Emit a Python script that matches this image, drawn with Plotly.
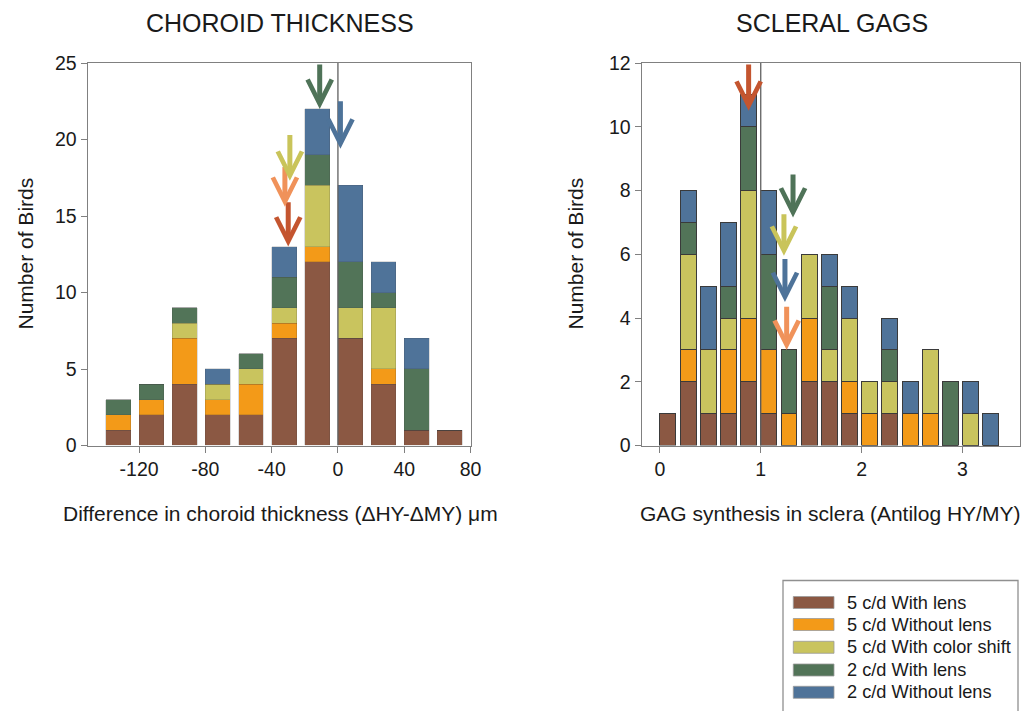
import plotly.graph_objects as go

W, H = 1022, 711

series_names = ["5 c/d With lens", "5 c/d Without lens", "5 c/d With color shift",
                "2 c/d With lens", "2 c/d Without lens"]
series_colors = ["#8B5843", "#F39A18", "#C9C45E", "#527458", "#4F7399"]

# Choroid thickness histogram (bin centers, um)
choroid_bins = [-132.5, -112.5, -92.5, -72.5, -52.5, -32.5, -12.5, 7.5, 27.5, 47.5, 67.5]
choroid_5cd_lens = [1, 2, 4, 2, 2, 7, 12, 7, 4, 1, 1]
choroid_5cd_nolens = [1, 1, 3, 1, 2, 1, 1, 0, 1, 0, 0]
choroid_5cd_color = [0, 0, 1, 1, 1, 1, 4, 2, 4, 0, 0]
choroid_2cd_lens = [1, 1, 1, 0, 1, 2, 2, 3, 1, 4, 0]
choroid_2cd_nolens = [0, 0, 0, 1, 0, 2, 3, 5, 2, 2, 0]
choroid_tickvals = [-120, -80, -40, 0, 40, 80]
choroid_ticktext = ["-120", "-80", "-40", "0", "40", "80"]

# Scleral GAG histogram (bin centers, antilog HY/MY)
gag_bins = [0.08, 0.28, 0.48, 0.68, 0.88, 1.08, 1.28, 1.48, 1.68, 1.88,
            2.08, 2.28, 2.48, 2.68, 2.88, 3.08, 3.28]
gag_5cd_lens = [1, 2, 1, 1, 2, 1, 0, 2, 2, 1, 0, 1, 0, 0, 0, 0, 0]
gag_5cd_nolens = [0, 1, 0, 2, 2, 2, 1, 2, 0, 1, 1, 0, 1, 1, 0, 0, 0]
gag_5cd_color = [0, 3, 2, 1, 4, 0, 0, 2, 1, 2, 1, 1, 0, 2, 0, 1, 0]
gag_2cd_lens = [0, 1, 0, 1, 2, 3, 2, 0, 2, 0, 0, 1, 0, 0, 2, 0, 0]
gag_2cd_nolens = [0, 1, 2, 2, 1, 2, 0, 0, 1, 1, 0, 1, 1, 0, 0, 1, 1]

# Mean-shift arrows: (x, tail y, tip y)
choroid_arrow_x = [-30, -32, -29, -11, 1.5]
choroid_arrow_tail = [16.0, 18.3, 20.4, 25.0, 22.6]
choroid_arrow_tip = [13.0, 15.6, 17.3, 22.0, 19.4]
gag_arrow_x = [0.88, 1.257, 1.23, 1.32, 1.24]
gag_arrow_tail = [12.0, 4.4, 7.3, 8.55, 5.9]
gag_arrow_tip = [10.5, 3.0, 5.95, 7.15, 4.5]
arrow_colors = ["#C4552F", "#F0925A", "#C9C45A", "#4F7358", "#4E7399"]

choroid_series = [choroid_5cd_lens, choroid_5cd_nolens, choroid_5cd_color,
                  choroid_2cd_lens, choroid_2cd_nolens]
gag_series = [gag_5cd_lens, gag_5cd_nolens, gag_5cd_color, gag_2cd_lens, gag_2cd_nolens]

FONT = "Liberation Sans, Arial, sans-serif"
TXT = "#1a1a1a"

fig = go.Figure()
for name, col, vals in zip(series_names, series_colors, choroid_series):
    fig.add_trace(go.Bar(x=choroid_bins, y=vals, width=15, name=name,
                         marker=dict(color=col, line=dict(width=0.5, color="rgba(60,60,60,0.35)")),
                         xaxis="x", yaxis="y", showlegend=False))
for name, col, vals in zip(series_names, series_colors, gag_series):
    fig.add_trace(go.Bar(x=gag_bins, y=vals, width=0.158, name=name,
                         marker=dict(color=col, line=dict(width=1, color="#3a3a3a")),
                         xaxis="x2", yaxis="y2", showlegend=False))

def px(x):
    return x / W

def py(y):
    return 1 - y / H

ydom = [py(445.5), py(62.7)]
axis_common = dict(showgrid=False, zeroline=False, showline=True, linecolor="#808080",
                   linewidth=1.3, mirror=True, ticks="outside", ticklen=6,
                   tickcolor="#808080", tickwidth=1.2, automargin=False,
                   tickfont=dict(family=FONT, size=19.5, color=TXT))

fig.update_layout(
    template="none",
    width=W, height=H, margin=dict(l=0, r=0, t=0, b=0, pad=0, autoexpand=False),
    paper_bgcolor="white", plot_bgcolor="white", barmode="stack",
    showlegend=False,
    xaxis=dict(domain=[px(87.7), px(471)], range=[-151, 80.3], tickmode="array",
               tickvals=choroid_tickvals, ticktext=choroid_ticktext,
               anchor="y", **axis_common),
    yaxis=dict(domain=ydom, range=[0, 25.02], tick0=0, dtick=5, anchor="x", **axis_common),
    xaxis2=dict(domain=[px(641.7), px(1020)], range=[-0.18, 3.57], tick0=0, dtick=1,
                anchor="y2", **axis_common),
    yaxis2=dict(domain=ydom, range=[0, 12.01], tick0=0, dtick=2, anchor="x2", **axis_common),
)

# reference lines
fig.add_shape(type="line", xref="x", yref="y", x0=0, x1=0, y0=0, y1=25,
              line=dict(color="#606060", width=1.3))
fig.add_shape(type="line", xref="x2", yref="y2", x0=1, x1=1, y0=0, y1=12,
              line=dict(color="#606060", width=1.3))

# arrows
for xs, tails, tips, xr, yr in [(choroid_arrow_x, choroid_arrow_tail, choroid_arrow_tip, "x", "y"),
                                (gag_arrow_x, gag_arrow_tail, gag_arrow_tip, "x2", "y2")]:
    for xv, t0, t1, c in zip(xs, tails, tips, arrow_colors):
        fig.add_annotation(x=xv, y=t1, ax=xv, ay=t0, xref=xr, yref=yr, axref=xr, ayref=yr,
                           text="", showarrow=True, arrowhead=5, arrowwidth=5,
                           arrowsize=0.95, arrowcolor=c, standoff=0)

def label(text, x, y, size, angle=0):
    fig.add_annotation(x=px(x), y=py(y), xref="paper", yref="paper", text=text,
                       showarrow=False, textangle=angle, xanchor="center", yanchor="middle",
                       font=dict(family=FONT, size=size, color=TXT))

label("CHOROID THICKNESS", 280, 23, 25)
label("SCLERAL GAGS", 831.7, 23, 25)
label("Difference in choroid thickness (ΔHY-ΔMY) μm", 280.5, 513, 21)
label("GAG synthesis in sclera (Antilog HY/MY)", 830, 513, 21)
label("Number of Birds", 25, 253.5, 21, -90)
label("Number of Birds", 575, 253.5, 21, -90)

# manual legend
fig.add_shape(type="rect", xref="paper", yref="paper", x0=px(783), x1=px(1018),
              y0=py(716), y1=py(580.5), line=dict(color="#909090", width=1.3),
              fillcolor="white")
row_y = [602.5, 624.5, 647.3, 670, 692.3]
for name, col, yc in zip(series_names, series_colors, row_y):
    fig.add_shape(type="rect", xref="paper", yref="paper", x0=px(793.3), x1=px(834),
                  y0=py(yc + 6), y1=py(yc - 6), line=dict(color="#9a9a9a", width=0.8),
                  fillcolor=col)
    fig.add_annotation(x=px(845), y=py(yc), xref="paper", yref="paper", text=name,
                       showarrow=False, xanchor="left", yanchor="middle",
                       font=dict(family=FONT, size=18.2, color=TXT))

fig.write_html("out.html")
